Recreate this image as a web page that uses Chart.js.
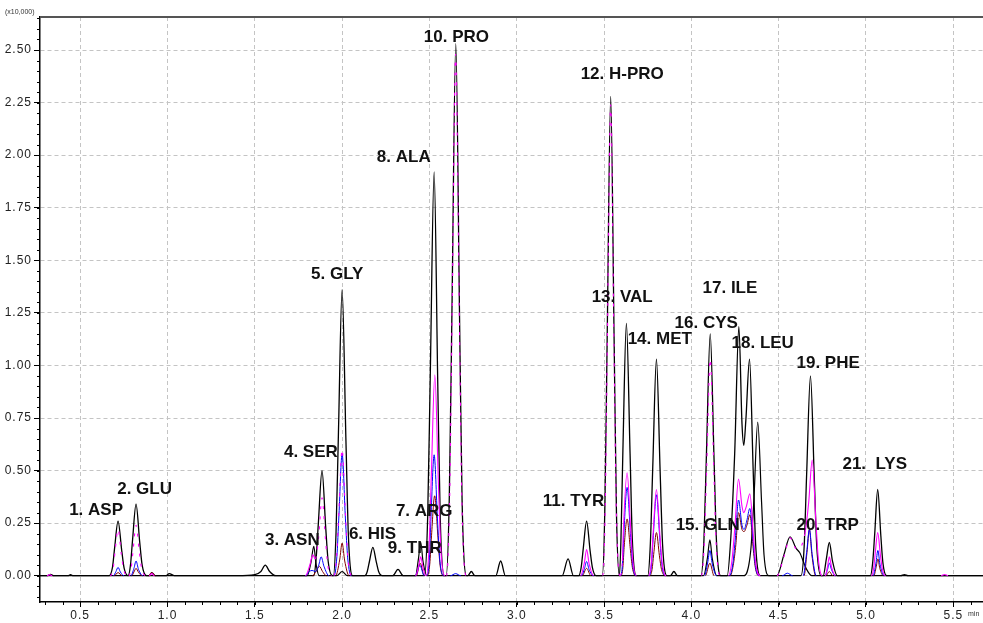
<!DOCTYPE html>
<html>
<head>
<meta charset="utf-8">
<title>Amino acid chromatogram</title>
<script src="https://cdn.jsdelivr.net/npm/chart.js@4.4.1/dist/chart.umd.min.js"></script>
<style>
    body { margin: 0; background: #fff; }
    #chart { display: block; }
</style>
</head>
<body>
<canvas id="chart" width="983" height="623"></canvas>
<script>
// retention time (min) / intensity (x10,000) pairs
const blackTrace = [
    [0.27, 0], [0.31, 0], [0.33, 0.006], [0.35, 0], [0.43, 0], [0.445, 0.005], [0.46, 0],
    [0.665, 0], [0.685, 0.04], [0.697, 0.13], [0.717, 0.26], [0.738, 0.12], [0.752, 0.035], [0.775, 0],
    [0.788, 0.05], [0.800, 0.17], [0.820, 0.34], [0.841, 0.16], [0.855, 0.05], [0.880, 0],
    [0.895, 0], [0.910, 0.015], [0.930, 0],
    [0.990, 0], [1.010, 0.010], [1.040, 0],
    [1.400, 0], [1.500, 0.005], [1.535, 0.02], [1.560, 0.05], [1.585, 0.02], [1.620, 0],
    [1.838, 0], [1.851, 0.08], [1.864, 0.25], [1.885, 0.50], [1.906, 0.23], [1.920, 0.07], [1.945, 0],
    [1.950, 0], [1.965, 0.20], [1.979, 0.68], [2.000, 1.36], [2.022, 0.64], [2.036, 0.19], [2.060, 0],
    [2.130, 0], [2.144, 0.02], [2.157, 0.07], [2.176, 0.135], [2.196, 0.065], [2.209, 0.02], [2.230, 0],
    [2.290, 0], [2.320, 0.03], [2.350, 0],
    [2.472, 0], [2.490, 0.28], [2.505, 0.96], [2.527, 1.92], [2.548, 0.90], [2.562, 0.27], [2.585, 0],
    [2.596, 0], [2.614, 0.38], [2.629, 1.26], [2.651, 2.53], [2.673, 1.20], [2.687, 0.36], [2.712, 0],
    [2.720, 0], [2.740, 0.02], [2.760, 0],
    [2.880, 0], [2.908, 0.07], [2.935, 0],
    [3.260, 0], [3.294, 0.08], [3.325, 0],
    [3.355, 0], [3.369, 0.04], [3.381, 0.13], [3.400, 0.26], [3.420, 0.12], [3.433, 0.04], [3.455, 0],
    [3.490, 0], [3.505, 0.34], [3.518, 1.14], [3.538, 2.28], [3.558, 1.10], [3.571, 0.30], [3.588, 0],
    [3.597, 0.18], [3.608, 0.60], [3.628, 1.20], [3.649, 0.58], [3.662, 0.17], [3.685, 0],
    [3.750, 0], [3.765, 0.15], [3.779, 0.52], [3.800, 1.03], [3.821, 0.50], [3.835, 0.15], [3.860, 0],
    [3.880, 0], [3.900, 0.02], [3.920, 0],
    [4.055, 0], [4.072, 0.17], [4.086, 0.57], [4.108, 1.15], [4.130, 0.55], [4.144, 0.16], [4.168, 0],
    [4.205, 0], [4.225, 0.17], [4.248, 0.58], [4.272, 1.185], [4.290, 0.72], [4.300, 0.62], [4.312, 0.74], [4.333, 1.03], [4.354, 0.50], [4.368, 0.15], [4.395, 0],
    [4.628, 0], [4.646, 0.14], [4.660, 0.48], [4.682, 0.95], [4.704, 0.46], [4.718, 0.14], [4.742, 0],
    [4.755, 0], [4.773, 0.08], [4.790, 0.158], [4.808, 0.07], [4.835, 0],
    [5.025, 0], [5.038, 0.06], [5.050, 0.20], [5.067, 0.41], [5.085, 0.19], [5.097, 0.06], [5.118, 0],
    [5.200, 0], [5.220, 0.005], [5.240, 0], [5.700, 0]
];

const blackTrace2 = [
    [0.27, 0],
    [1.800, 0], [1.822, 0.065], [1.838, 0.14], [1.850, 0.06], [1.868, 0],
    [1.970, 0], [2.000, 0.02], [2.030, 0],
    [2.420, 0], [2.437, 0.08], [2.450, 0.16], [2.463, 0.07], [2.485, 0],
    [4.070, 0], [4.092, 0.085], [4.106, 0.17], [4.120, 0.08], [4.145, 0],
    [4.300, 0], [4.340, 0.12], [4.358, 0.36], [4.380, 0.73], [4.402, 0.35], [4.416, 0.10], [4.445, 0],
    [4.490, 0], [4.530, 0.10], [4.565, 0.185], [4.600, 0.13], [4.620, 0.11], [4.660, 0.03], [4.690, 0],
    [5.700, 0]
];

const magentaTrace = [
    [0.27, 0], [0.31, 0], [0.325, 0.005], [0.34, 0],
    [0.672, 0], [0.689, 0.035], [0.699, 0.11], [0.717, 0.22], [0.736, 0.10], [0.749, 0.03], [0.770, 0],
    [0.778, 0], [0.792, 0.035], [0.803, 0.12], [0.820, 0.24], [0.839, 0.11], [0.852, 0.035], [0.875, 0],
    [0.895, 0], [0.910, 0.01], [0.925, 0],
    [1.790, 0], [1.815, 0.05], [1.832, 0.10], [1.846, 0.08], [1.866, 0.185], [1.885, 0.37], [1.905, 0.17], [1.918, 0.05], [1.940, 0],
    [1.952, 0], [1.968, 0.09], [1.981, 0.30], [2.000, 0.60], [2.020, 0.28], [2.033, 0.085], [2.055, 0],
    [2.420, 0], [2.438, 0.045], [2.450, 0.09], [2.463, 0.04], [2.480, 0],
    [2.482, 0], [2.498, 0.14], [2.511, 0.48], [2.531, 0.955], [2.551, 0.45], [2.565, 0.13], [2.588, 0],
    [2.598, 0], [2.616, 0.37], [2.630, 1.24], [2.650, 2.48], [2.672, 1.18], [2.686, 0.35], [2.710, 0],
    [3.365, 0], [3.387, 0.06], [3.400, 0.125], [3.415, 0.055], [3.440, 0],
    [3.492, 0], [3.507, 0.33], [3.519, 1.12], [3.538, 2.24], [3.557, 1.08], [3.570, 0.32], [3.590, 0],
    [3.592, 0], [3.605, 0.07], [3.612, 0.245], [3.632, 0.49], [3.652, 0.23], [3.665, 0.07], [3.685, 0],
    [3.755, 0], [3.770, 0.06], [3.781, 0.20], [3.800, 0.41], [3.820, 0.19], [3.833, 0.06], [3.855, 0],
    [4.058, 0], [4.074, 0.155], [4.088, 0.52], [4.108, 1.03], [4.129, 0.49], [4.142, 0.15], [4.165, 0],
    [4.212, 0], [4.232, 0.07], [4.249, 0.23], [4.270, 0.46], [4.290, 0.33], [4.300, 0.30], [4.315, 0.33], [4.335, 0.39], [4.356, 0.18], [4.370, 0.05], [4.395, 0],
    [4.490, 0], [4.530, 0.09], [4.565, 0.18], [4.600, 0.13], [4.615, 0.13], [4.650, 0.20], [4.672, 0.35], [4.692, 0.55], [4.713, 0.26], [4.727, 0.08], [4.750, 0],
    [4.765, 0], [4.780, 0.045], [4.790, 0.09], [4.803, 0.04], [4.825, 0],
    [5.030, 0], [5.043, 0.03], [5.052, 0.10], [5.067, 0.205], [5.083, 0.095], [5.094, 0.03], [5.112, 0],
    [5.430, 0], [5.450, 0.006], [5.470, 0], [5.700, 0]
];

const blueTrace = [
    [0.27, 0],
    [0.690, 0], [0.705, 0.02], [0.717, 0.04], [0.730, 0.018], [0.750, 0],
    [0.790, 0], [0.808, 0.035], [0.820, 0.07], [0.834, 0.03], [0.860, 0],
    [1.790, 0], [1.812, 0.02], [1.828, 0.025], [1.848, 0.02], [1.866, 0.05], [1.880, 0.09], [1.896, 0.045], [1.925, 0],
    [1.954, 0], [1.970, 0.09], [1.982, 0.29], [2.000, 0.58], [2.019, 0.27], [2.032, 0.085], [2.053, 0],
    [2.420, 0], [2.445, 0.05], [2.470, 0],
    [2.484, 0], [2.500, 0.085], [2.509, 0.28], [2.527, 0.575], [2.546, 0.27], [2.559, 0.08], [2.582, 0],
    [2.620, 0], [2.650, 0.01], [2.680, 0],
    [3.370, 0], [3.388, 0.034], [3.400, 0.068], [3.414, 0.03], [3.440, 0],
    [3.594, 0], [3.606, 0.06], [3.614, 0.21], [3.632, 0.42], [3.651, 0.20], [3.663, 0.06], [3.682, 0],
    [3.758, 0], [3.772, 0.055], [3.782, 0.19], [3.800, 0.385], [3.819, 0.18], [3.831, 0.055], [3.852, 0],
    [4.075, 0], [4.093, 0.06], [4.106, 0.12], [4.120, 0.055], [4.145, 0],
    [4.218, 0], [4.238, 0.06], [4.252, 0.18], [4.270, 0.36], [4.290, 0.24], [4.302, 0.22], [4.317, 0.26], [4.335, 0.32], [4.355, 0.15], [4.368, 0.04], [4.390, 0],
    [4.520, 0], [4.550, 0.012], [4.580, 0],
    [4.640, 0], [4.660, 0.11], [4.676, 0.22], [4.692, 0.10], [4.715, 0],
    [4.765, 0], [4.780, 0.03], [4.790, 0.06], [4.803, 0.028], [4.825, 0],
    [5.040, 0], [5.057, 0.06], [5.068, 0.12], [5.080, 0.055], [5.105, 0],
    [5.700, 0]
];

const brownTrace = [
    [0.27, 0],
    [0.695, 0], [0.717, 0.015], [0.740, 0],
    [0.795, 0], [0.808, 0.018], [0.820, 0.035], [0.834, 0.016], [0.855, 0],
    [0.893, 0], [0.910, 0.015], [0.930, 0],
    [1.830, 0], [1.852, 0.022], [1.870, 0.045], [1.888, 0.02], [1.910, 0],
    [1.963, 0], [1.986, 0.075], [2.000, 0.155], [2.015, 0.07], [2.040, 0],
    [2.425, 0], [2.447, 0.06], [2.470, 0],
    [2.488, 0], [2.502, 0.055], [2.512, 0.19], [2.530, 0.38], [2.549, 0.18], [2.561, 0.05], [2.582, 0],
    [3.375, 0], [3.400, 0.035], [3.425, 0],
    [3.596, 0], [3.608, 0.04], [3.615, 0.135], [3.632, 0.27], [3.650, 0.13], [3.662, 0.04], [3.680, 0],
    [3.762, 0], [3.775, 0.03], [3.784, 0.10], [3.800, 0.205], [3.817, 0.095], [3.829, 0.03], [3.850, 0],
    [4.080, 0], [4.106, 0.06], [4.130, 0],
    [4.222, 0], [4.240, 0.05], [4.255, 0.15], [4.270, 0.30], [4.290, 0.22], [4.302, 0.21], [4.318, 0.24], [4.335, 0.29], [4.354, 0.13], [4.366, 0.04], [4.385, 0],
    [4.645, 0], [4.662, 0.11], [4.676, 0.22], [4.690, 0.10], [4.712, 0],
    [4.770, 0], [4.790, 0.02], [4.810, 0],
    [5.045, 0], [5.058, 0.04], [5.068, 0.08], [5.079, 0.035], [5.100, 0],
    [5.700, 0]
];

const xTicks = [0.5, 1.0, 1.5, 2.0, 2.5, 3.0, 3.5, 4.0, 4.5, 5.0, 5.5];
const yTicks = [0.00, 0.25, 0.50, 0.75, 1.00, 1.25, 1.50, 1.75, 2.00, 2.25, 2.50];

// peak names, anchored in data units (left edge, middle of text)
const peakLabels = [
    ['1. ASP', 0.437, 0.309], ['2. GLU', 0.712, 0.413], ['3. ASN', 1.558, 0.166],
    ['4. SER', 1.667, 0.589], ['5. GLY', 1.822, 1.431], ['6. HIS', 2.039, 0.195],
    ['7. ARG', 2.308, 0.304], ['8. ALA', 2.199, 1.991], ['9. THR', 2.262, 0.128],
    ['10. PRO', 2.468, 2.562], ['11. TYR', 3.149, 0.356], ['12. H-PRO', 3.366, 2.386],
    ['13. VAL', 3.429, 1.326], ['14. MET', 3.635, 1.126], ['15. GLN', 3.910, 0.242],
    ['16. CYS', 3.904, 1.202], ['17. ILE', 4.064, 1.369], ['18. LEU', 4.230, 1.103],
    ['19. PHE', 4.602, 1.012], ['20. TRP', 4.602, 0.242], ['21.  LYS', 4.865, 0.528]
];

// time windows where the magenta trace sits right on the black one
const overlapWindows = [[0.66, 0.88], [1.84, 2.06], [2.59, 2.72], [3.49, 3.60], [4.05, 4.17], [4.49, 4.62]];

function toPoints(trace) {
    return trace.map(p => ({ x: p[0], y: p[1] }));
}

function inOverlap(x) {
    return overlapWindows.some(w => x >= w[0] && x <= w[1]);
}

function flat(ctx) {
    return ctx.p0.parsed.y === 0 && ctx.p1.parsed.y === 0;
}

function traceDataset(trace, color, width, order, extra) {
    return Object.assign({
        data: toPoints(trace),
        showLine: true,
        borderColor: color,
        borderWidth: width,
        pointRadius: 0,
        cubicInterpolationMode: 'monotone',
        order: order
    }, extra || {});
}

// baseline parts of the coloured traces stay hidden under the black baseline
const hideFlat = { segment: { borderColor: ctx => flat(ctx) ? 'rgba(0,0,0,0)' : undefined } };

const labelPlugin = {
    id: 'labels',
    beforeDraw(chart) {
        chart.ctx.letterSpacing = '1px';
    },
    beforeDatasetsDraw(chart) {
        const { ctx, chartArea } = chart;
        ctx.letterSpacing = '0px';
        // top frame line
        ctx.save();
        ctx.strokeStyle = '#555';
        ctx.lineWidth = 2;
        ctx.beginPath();
        ctx.moveTo(chartArea.left, chartArea.top);
        ctx.lineTo(chartArea.right, chartArea.top);
        ctx.stroke();
        ctx.restore();
    },
    afterDraw(chart) {
        const { ctx, chartArea, scales } = chart;
        ctx.save();
        // minor ticks
        ctx.strokeStyle = '#000';
        ctx.lineWidth = 1;
        ctx.beginPath();
        for (let i = -2; i <= 53; i++) {
            const py = Math.round(scales.y.getPixelForValue(i * 0.05)) + 0.5;
            ctx.moveTo(chartArea.left - 3, py);
            ctx.lineTo(chartArea.left, py);
        }
        for (let i = 3; i <= 56; i++) {
            const px = Math.round(scales.x.getPixelForValue(i * 0.1)) + 0.5;
            ctx.moveTo(px, chartArea.bottom);
            ctx.lineTo(px, chartArea.bottom + 3);
        }
        ctx.stroke();

        ctx.fillStyle = '#111';
        ctx.font = 'bold 17px "Liberation Sans", Arial, sans-serif';
        ctx.textAlign = 'left';
        ctx.textBaseline = 'middle';
        peakLabels.forEach(l => {
            ctx.fillText(l[0], scales.x.getPixelForValue(l[1]), scales.y.getPixelForValue(l[2]));
        });

        ctx.font = '7px "Liberation Sans", Arial, sans-serif';
        ctx.fillStyle = '#333';
        ctx.textBaseline = 'alphabetic';
        ctx.fillText('(x10,000)', 5, 14);
        ctx.fillText('min', chartArea.right - 15, chartArea.bottom + 14);
        ctx.restore();
    }
};

const ctx = document.getElementById('chart').getContext('2d');
new Chart(ctx, {
    type: 'scatter',
    data: {
        datasets: [
            traceDataset(magentaTrace, '#ff00ff', 1.1, 0, {
                segment: {
                    borderColor: c => flat(c) ? 'rgba(0,0,0,0)' : undefined,
                    borderDash: c => inOverlap(c.p0.parsed.x) ? [3, 7] : undefined
                }
            }),
            traceDataset(blueTrace, '#0000ff', 1, 1, hideFlat),
            traceDataset(brownTrace, '#800000', 1, 2, hideFlat),
            traceDataset(blackTrace2, '#000000', 1.2, 3),
            traceDataset(blackTrace, '#000000', 1.3, 4)
        ]
    },
    options: {
        responsive: false,
        animation: false,
        layout: { padding: { top: 17, left: 0, right: 0, bottom: 0 } },
        plugins: {
            legend: { display: false },
            tooltip: { enabled: false }
        },
        scales: {
            x: {
                type: 'linear',
                min: 0.27,
                max: 5.67,
                afterBuildTicks: axis => { axis.ticks = xTicks.map(v => ({ value: v })); },
                afterFit: axis => { axis.height = 21; },
                ticks: {
                    autoSkip: false,
                    maxRotation: 0,
                    padding: 1,
                    color: '#222',
                    font: { family: '"Liberation Sans", Arial, sans-serif', size: 12 },
                    callback: v => v.toFixed(1)
                },
                grid: { color: '#c4c4c4', tickColor: '#000', tickLength: 5, tickBorderDash: [] },
                border: { color: '#000', width: 1.5, dash: [4, 3] }
            },
            y: {
                min: -0.125,
                max: 2.657,
                afterBuildTicks: axis => { axis.ticks = yTicks.map(v => ({ value: v })); },
                afterFit: axis => { axis.width = 40; },
                ticks: {
                    autoSkip: false,
                    padding: 2,
                    color: '#222',
                    font: { family: '"Liberation Sans", Arial, sans-serif', size: 12 },
                    callback: v => v.toFixed(2)
                },
                grid: { color: '#c4c4c4', tickColor: '#000', tickLength: 6, tickBorderDash: [] },
                border: { color: '#000', width: 1.5, dash: [4, 3] }
            }
        }
    },
    plugins: [labelPlugin]
});
</script>
</body>
</html>
